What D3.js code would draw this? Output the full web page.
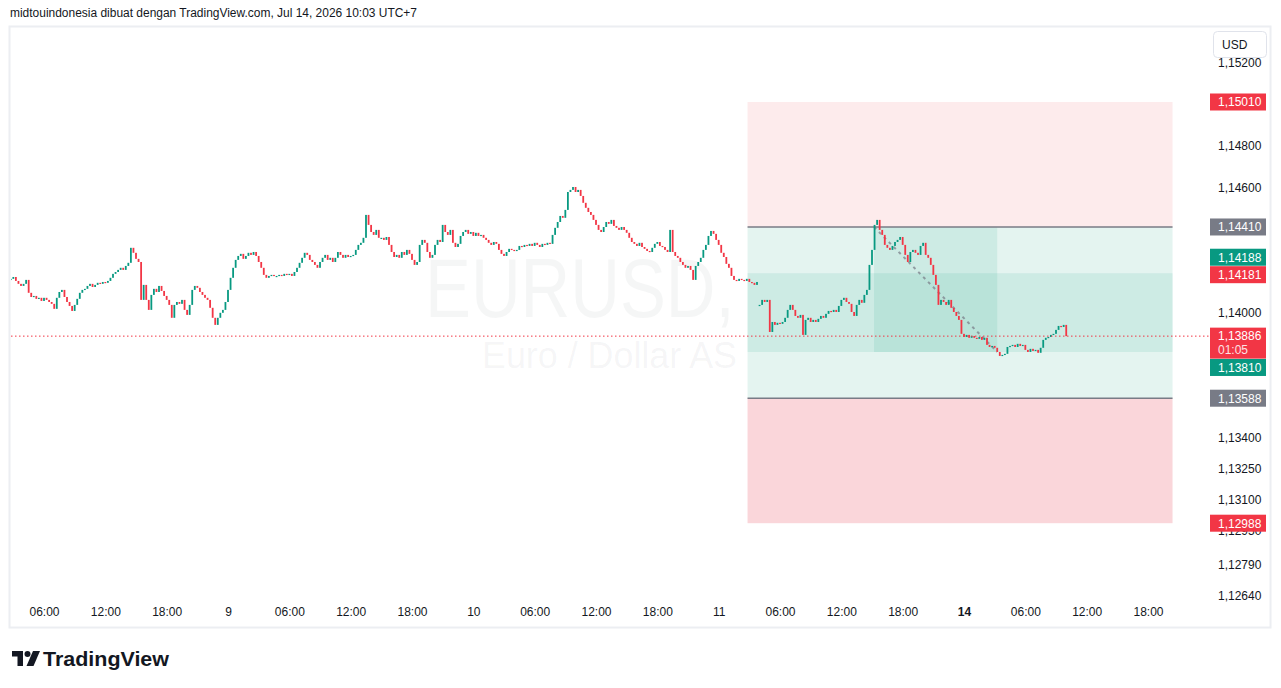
<!DOCTYPE html>
<html>
<head>
<meta charset="utf-8">
<script src="https://cdn.jsdelivr.net/npm/d3@7"></script>
<style>
  html, body { margin: 0; padding: 0; background: #ffffff; }
  svg { display: block; }
  text { font-family: "Liberation Sans", Arial, sans-serif; }
</style>
</head>
<body>
<svg id="chart" width="1281" height="688"></svg>
<script>
// ---------------- DATA ----------------
// 15-minute closes, EURUSD. Slot index = number of 15-min slots since Jul 8 00:00 (UTC+7), weekend removed.
const sessionAStartSlot = 11;   // Jul 8 02:45
const sessionA = [
  1.14161,1.14170,1.14151,1.14137,1.14127,1.14137,1.14156,1.14094,1.14074,1.14079,
  1.14065,1.14070,1.14055,1.14070,1.14060,1.14050,1.14041,1.14017,1.14070,1.14098,
  1.14108,1.14074,1.14050,1.14031,1.14007,1.14036,1.14065,1.14094,1.14108,1.14113,
  1.14127,1.14137,1.14122,1.14132,1.14142,1.14137,1.14146,1.14142,1.14151,1.14166,
  1.14185,1.14194,1.14204,1.14214,1.14204,1.14223,1.14238,1.14310,1.14286,1.14257,
  1.14242,1.14060,1.14132,1.14060,1.14012,1.14084,1.14113,1.14098,1.14127,1.14103,
  1.14079,1.14060,1.14036,1.13974,1.14036,1.14050,1.14041,1.14060,1.14012,1.13988,
  1.14036,1.14108,1.14127,1.14118,1.14098,1.14084,1.14070,1.14060,1.14022,1.13974,
  1.13940,1.13974,1.13998,1.14012,1.14050,1.14108,1.14166,1.14214,1.14252,1.14271,
  1.14281,1.14257,1.14271,1.14286,1.14276,1.14290,1.14271,1.14242,1.14214,1.14180,
  1.14166,1.14175,1.14180,1.14175,1.14175,1.14180,1.14175,1.14185,1.14180,1.14185,
  1.14175,1.14194,1.14214,1.14238,1.14262,1.14286,1.14276,1.14252,1.14242,1.14228,
  1.14214,1.14242,1.14262,1.14276,1.14252,1.14262,1.14242,1.14262,1.14290,1.14276,
  1.14262,1.14276,1.14266,1.14271,1.14276,1.14300,1.14324,1.14334,1.14358,1.14468,
  1.14420,1.14386,1.14372,1.14396,1.14358,1.14358,1.14348,1.14362,1.14324,1.14290,
  1.14266,1.14276,1.14262,1.14290,1.14276,1.14300,1.14281,1.14252,1.14228,1.14242,
  1.14324,1.14348,1.14334,1.14290,1.14262,1.14276,1.14324,1.14348,1.14338,1.14420,
  1.14386,1.14372,1.14396,1.14334,1.14314,1.14329,1.14367,1.14386,1.14396,1.14377,
  1.14386,1.14367,1.14382,1.14367,1.14372,1.14358,1.14348,1.14334,1.14324,1.14338,
  1.14329,1.14300,1.14281,1.14271,1.14290,1.14305,1.14300,1.14295,1.14300,1.14319,
  1.14314,1.14324,1.14319,1.14329,1.14319,1.14334,1.14324,1.14314,1.14329,1.14324,
  1.14334,1.14329,1.14372,1.14406,1.14434,1.14463,1.14454,1.14492,1.14578,1.14588,
  1.14602,1.14578,1.14588,1.14559,1.14526,1.14502,1.14482,1.14468,1.14444,1.14420,
  1.14396,1.14386,1.14410,1.14434,1.14425,1.14444,1.14415,1.14406,1.14396,1.14410,
  1.14396,1.14382,1.14358,1.14338,1.14329,1.14319,1.14334,1.14314,1.14305,1.14295,
  1.14290,1.14310,1.14329,1.14338,1.14319,1.14314,1.14300,1.14290,1.14396,1.14290,
  1.14271,1.14262,1.14242,1.14228,1.14214,1.14223,1.14204,1.14156,1.14223,1.14242,
  1.14262,1.14300,1.14324,1.14367,1.14391,1.14377,1.14348,1.14324,1.14286,1.14266,
  1.14233,1.14214,1.14175,1.14156,1.14151,1.14161,1.14156,1.14151,1.14161,1.14146,
  1.14142,1.14132,1.14146
];
const sessionBStartSlot = 304;  // Jul 13 04:00 (after weekend gap)
const sessionB = [
  1.14036,1.14060,1.14050,1.14060,1.13906,1.13954,1.13940,1.13950,1.13945,1.13954,
  1.13974,1.14012,1.14036,1.14012,1.13983,1.13974,1.13988,1.13892,1.13964,1.13974,
  1.13954,1.13964,1.13954,1.13969,1.13983,1.13974,1.13993,1.14007,1.14002,1.14012,
  1.14002,1.14031,1.14060,1.14070,1.14050,1.14041,1.14002,1.13983,1.14036,1.14060,
  1.14046,1.14084,1.14108,1.14228,1.14300,1.14420,1.14444,1.14396,1.14372,1.14324,
  1.14310,1.14300,1.14319,1.14338,1.14348,1.14362,1.14324,1.14276,1.14242,1.14290,
  1.14300,1.14286,1.14276,1.14319,1.14334,1.14276,1.14262,1.14228,1.14180,1.14132,
  1.14036,1.14060,1.14050,1.14036,1.14060,1.14022,1.14002,1.13983,1.13964,1.13897,
  1.13882,1.13892,1.13878,1.13887,1.13878,1.13873,1.13882,1.13868,1.13878,1.13844,
  1.13834,1.13839,1.13830,1.13810,1.13791,1.13796,1.13801,1.13834,1.13839,1.13844,
  1.13834,1.13849,1.13839,1.13844,1.13820,1.13810,1.13825,1.13815,1.13820,1.13806,
  1.13830,1.13868,1.13878,1.13882,1.13892,1.13897,1.13916,1.13935,1.13930,1.13940,
  1.13886
];

// Time axis
const timeTickLabels = ["06:00","12:00","18:00","9","06:00","12:00","18:00","10","06:00","12:00","18:00","11","06:00","12:00","18:00","14","06:00","12:00","18:00"];
const timeTickSlots  = [24,48,72,96,120,144,168,192,216,240,264,288,312,336,360,384,408,432,456];

// Price axis
const priceTicks = [1.15200,1.14800,1.14600,1.14000,1.13400,1.13250,1.13100,1.12950,1.12790,1.12640];

// Price scale markers
const markerValues = [1.15010,1.14410,1.14188,1.14181,1.13886,1.13810,1.13588,1.12988];
const markerKinds  = ["red","gray","green","red","last","green","gray","red"];
const lastPrice = 1.13886;
const countdown = "01:05";

// Position tools
const posStartSlot = 299.3, posEndSlot = 465.6;
const posStop = 1.15010, posEntry = 1.14410, posTarget = 1.13588, posStop2 = 1.12988;
const bandTop = 1.14188, bandBottom = 1.13810;
const tradeStartSlot = 348.8, tradeEndSlot = 397;
const tradeEntry = 1.14410, tradeExit = 1.13810;

// ---------------- DRAW ----------------
const svg = d3.select("#chart");
const W = 1281, H = 688;
const UP = "#089981", DOWN = "#F23645", GRAY = "#787B86", TXT = "#131722";

const x = d3.scaleLinear().domain([24, 456]).range([44, 1148]);
const y = d3.scaleLinear().domain([1.15010, 1.12988]).range([102, 523.2]);

const fmt = v => d3.format(".5f")(v).replace(".", ",");

// Frame
svg.append("rect").attr("x", 0).attr("y", 0).attr("width", W).attr("height", H).attr("fill", "#fff");
svg.append("rect").attr("x", 9.5).attr("y", 26.5).attr("width", 1261).attr("height", 601)
  .attr("fill", "none").attr("stroke", "#eceef2").attr("stroke-width", 2);

// Header
svg.append("text").attr("x", 10).attr("y", 17).attr("font-size", 12.5).attr("fill", TXT)
  .attr("textLength", 407).attr("lengthAdjust", "spacingAndGlyphs")
  .text("midtouindonesia dibuat dengan TradingView.com, Jul 14, 2026 10:03 UTC+7");

// clip for plot
svg.append("defs").append("clipPath").attr("id", "plotclip")
  .append("rect").attr("x", 11).attr("y", 28).attr("width", 1195).attr("height", 572);
const plot = svg.append("g").attr("clip-path", "url(#plotclip)");

// Watermark
plot.append("text").attr("x", 425).attr("y", 317).attr("font-size", 83)
  .attr("textLength", 367).attr("lengthAdjust", "spacingAndGlyphs")
  .attr("fill", "rgba(120,123,134,0.07)").text("EURUSD, 5");
plot.append("text").attr("x", 482).attr("y", 368).attr("font-size", 36)
  .attr("textLength", 255).attr("lengthAdjust", "spacingAndGlyphs")
  .attr("fill", "rgba(120,123,134,0.07)").text("Euro / Dollar AS");

// Position zones
const px0 = x(posStartSlot), px1 = x(posEndSlot);
plot.append("rect").attr("x", px0).attr("width", px1 - px0)
  .attr("y", y(posStop)).attr("height", y(posEntry) - y(posStop)).attr("fill", "#fdebec");
plot.append("rect").attr("x", px0).attr("width", px1 - px0)
  .attr("y", y(posEntry)).attr("height", y(posTarget) - y(posEntry)).attr("fill", "#e4f4f0");
plot.append("rect").attr("x", px0).attr("width", px1 - px0)
  .attr("y", y(posTarget)).attr("height", y(posStop2) - y(posTarget)).attr("fill", "#fad6da");
plot.append("rect").attr("x", px0).attr("width", px1 - px0)
  .attr("y", y(bandTop)).attr("height", y(bandBottom) - y(bandTop)).attr("fill", "rgba(8,153,129,0.1)");
plot.append("rect").attr("x", x(tradeStartSlot)).attr("width", x(tradeEndSlot) - x(tradeStartSlot))
  .attr("y", y(tradeEntry)).attr("height", y(tradeExit) - y(tradeEntry)).attr("fill", "rgba(8,153,129,0.1)");
[posEntry, posTarget].forEach(v => {
  plot.append("line").attr("x1", px0).attr("x2", px1).attr("y1", y(v)).attr("y2", y(v))
    .attr("stroke", GRAY).attr("stroke-width", 1.5);
});
plot.append("line")
  .attr("x1", x(tradeStartSlot)).attr("y1", y(tradeEntry))
  .attr("x2", x(tradeEndSlot)).attr("y2", y(tradeExit))
  .attr("stroke", GRAY).attr("stroke-opacity", 0.7).attr("stroke-width", 2)
  .attr("stroke-dasharray", "3,4");

// Candles
function buildCandles(arr, startSlot) {
  return arr.map((c, k) => {
    const o = k === 0 ? c : arr[k - 1];
    return { slot: startSlot + k, o, c };
  });
}
const candles = buildCandles(sessionA, sessionAStartSlot).concat(buildCandles(sessionB, sessionBStartSlot));
const bw = 1.8;
plot.append("g").selectAll("rect").data(candles).join("rect")
  .attr("x", d => x(d.slot) - bw / 2)
  .attr("width", bw)
  .attr("y", d => y(Math.max(d.o, d.c)))
  .attr("height", d => Math.max(1.2, Math.abs(y(d.o) - y(d.c))))
  .attr("fill", d => d.c >= d.o ? UP : DOWN);

// Last price dotted line
svg.append("line").attr("x1", 11).attr("x2", 1210).attr("y1", y(lastPrice)).attr("y2", y(lastPrice))
  .attr("stroke", DOWN).attr("stroke-width", 1).attr("stroke-dasharray", "1.5,2.5");

// Time axis
const xAxis = d3.axisBottom(x).tickValues(timeTickSlots).tickSize(0)
  .tickFormat((d, i) => timeTickLabels[i]);
const gx = svg.append("g").attr("transform", "translate(0,604)").call(xAxis);
gx.select(".domain").remove();
gx.selectAll("text").attr("font-size", 12).attr("fill", TXT)
  .attr("font-family", "'Liberation Sans', Arial, sans-serif")
  .attr("font-weight", (d, i) => timeTickLabels[i] === "14" ? 700 : 400);

// Price axis
const yAxis = d3.axisRight(y).tickValues(priceTicks).tickSize(0).tickFormat(fmt);
const gy = svg.append("g").attr("transform", "translate(1215,0)").call(yAxis);
gy.select(".domain").remove();
gy.selectAll("text").attr("font-size", 12).attr("fill", TXT).attr("x", 3)
  .attr("font-family", "'Liberation Sans', Arial, sans-serif");

// Price markers (labels on axis)
const kindColor = { red: DOWN, green: UP, gray: GRAY, last: DOWN };
// nudges where TradingView stacks overlapping labels
const nudge = { 2: -16, 5: 15.5 };
markerValues.forEach((v, i) => {
  const kind = markerKinds[i];
  const cy = y(v) + (nudge[i] || 0);
  const g = svg.append("g");
  if (kind === "last") {
    g.append("rect").attr("x", 1210).attr("y", cy - 8.5).attr("width", 56).attr("height", 31)
      .attr("fill", DOWN);
    g.append("text").attr("x", 1218).attr("y", cy + 4).attr("font-size", 12).attr("fill", "#fff").text(fmt(v));
    g.append("text").attr("x", 1218).attr("y", cy + 18).attr("font-size", 12).attr("fill", "#fde2e4").text(countdown);
  } else {
    g.append("rect").attr("x", 1210).attr("y", cy - 8.5).attr("width", 56).attr("height", 17)
      .attr("fill", kindColor[kind]);
    g.append("text").attr("x", 1218).attr("y", cy + 4.3).attr("font-size", 12).attr("fill", "#fff").text(fmt(v));
  }
});

// Currency button
svg.append("rect").attr("x", 1213.5).attr("y", 31.5).attr("width", 53).attr("height", 26).attr("rx", 4)
  .attr("fill", "#fff").attr("stroke", "#e0e3eb");
svg.append("text").attr("x", 1222).attr("y", 49).attr("font-size", 12).attr("fill", TXT).text("USD");

// TradingView logo
const logo = svg.append("g").attr("transform", "translate(12,650)");
logo.append("path").attr("d", "M0,1 H11 V16 H5.5 V6.5 H0 Z").attr("fill", TXT);
logo.append("circle").attr("cx", 15.5).attr("cy", 4).attr("r", 3).attr("fill", TXT);
logo.append("path").attr("d", "M21,1 H28 L21.5,16 H14.5 Z").attr("fill", TXT);
svg.append("text").attr("x", 43).attr("y", 666).attr("font-size", 20).attr("font-weight", 700)
  .attr("textLength", 126).attr("lengthAdjust", "spacingAndGlyphs").attr("fill", TXT).text("TradingView");
</script>
</body>
</html>
